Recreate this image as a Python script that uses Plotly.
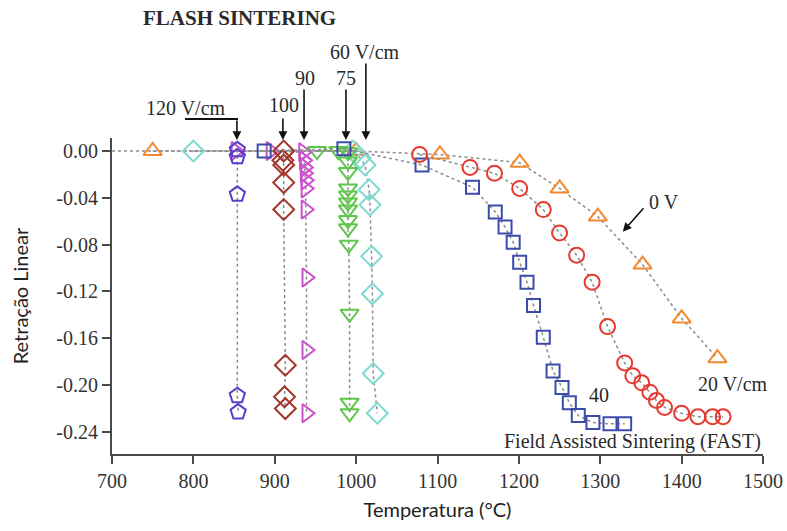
import plotly.graph_objects as go

# ---- data: temperature (°C) vs linear shrinkage ----
# conventional sintering, 0 V
t_0v = [750, 1000, 1103, 1201, 1250, 1297, 1352, 1400, 1444]
s_0v = [0.0, 0.0, -0.003, -0.010, -0.032, -0.056, -0.097, -0.143, -0.177]

# field assisted, 20 V/cm
t_20 = [1078, 1140, 1170, 1201, 1230, 1250, 1271, 1290, 1309, 1330, 1340,
        1351, 1361, 1369, 1379, 1400, 1420, 1438, 1451]
s_20 = [-0.003, -0.014, -0.019, -0.032, -0.050, -0.070, -0.089, -0.112, -0.150,
        -0.181, -0.192, -0.198, -0.206, -0.213, -0.219, -0.224, -0.227, -0.227, -0.227]

# field assisted, 40 V/cm
t_40 = [887, 985, 1081, 1143, 1171, 1183, 1193, 1201, 1210, 1218, 1230, 1242,
        1253, 1262, 1273, 1291, 1312, 1330]
s_40 = [0.0, 0.002, -0.012, -0.031, -0.052, -0.065, -0.078, -0.095, -0.112, -0.132,
        -0.159, -0.188, -0.202, -0.215, -0.226, -0.232, -0.233, -0.233]

# flash sintering, 60 V/cm
t_60 = [800, 996, 1005, 1011, 1016, 1017, 1019, 1020, 1021, 1026]
s_60 = [0.0, 0.0, -0.006, -0.012, -0.033, -0.046, -0.090, -0.122, -0.190, -0.224]

# flash sintering, 75 V/cm
t_75 = [952, 978, 990, 990, 990, 990, 990, 990, 990, 990, 990, 991, 992, 992, 992]
s_75 = [0.0, 0.0, -0.001, -0.009, -0.018, -0.032, -0.038, -0.044, -0.050, -0.059,
        -0.066, -0.080, -0.139, -0.215, -0.224]

# flash sintering, 90 V/cm
t_90 = [852, 895, 935, 936, 937, 937, 938, 938, 938, 939, 939, 939]
s_90 = [0.0, 0.0, -0.001, -0.008, -0.014, -0.019, -0.025, -0.032, -0.050, -0.108,
        -0.170, -0.224]

# flash sintering, 100 V/cm
t_100 = [911, 910, 911, 911, 911, 913, 912, 913]
s_100 = [0.0, -0.008, -0.012, -0.027, -0.050, -0.183, -0.210, -0.220]

# flash sintering, 120 V/cm
t_120 = [854, 854, 854, 854, 855]
s_120 = [0.001, -0.005, -0.037, -0.209, -0.223]

x_ticks = [700, 800, 900, 1000, 1100, 1200, 1300, 1400, 1500]
y_ticks = [0.0, -0.04, -0.08, -0.12, -0.16, -0.20, -0.24]
y_tick_text = ["0.00", "-0.04", "-0.08", "-0.12", "-0.16", "-0.20", "-0.24"]

SERIF = "Liberation Serif, Times New Roman, serif"
SANS = "Lato, Open Sans, sans-serif"
LINE = dict(color="#8c8c8c", width=1.5, dash="dot")

series = [
    (t_0v, s_0v, "triangle-up-open", "#F2892F", 16),
    (t_60, s_60, "diamond-open", "#7ED9D0", 16),
    (t_75, s_75, "triangle-down-open", "#5EC64B", 16),
    (t_90, s_90, "triangle-right-open", "#CC50CC", 16),
    (t_100, s_100, "diamond-open", "#A3342B", 16),
    (t_120, s_120, "pentagon-open", "#5B3FC6", 16),
    (t_40, s_40, "square-open", "#3C4BAA", 13),
    (t_20, s_20, "circle-open", "#E6392F", 15),
]

fig = go.Figure()
for xs, ys, sym, col, sz in series:
    fig.add_trace(go.Scatter(
        x=xs, y=ys, mode="lines+markers",
        line=LINE,
        marker=dict(symbol=sym, size=sz, color=col, line=dict(color=col, width=2)),
        showlegend=False, cliponaxis=False,
    ))

# dotted zero baseline before the onset of shrinkage
fig.add_shape(type="line", xref="x", yref="y", x0=x_ticks[0], x1=1000, y0=0, y1=0,
              line=LINE, layer="below")

ann = []

def label(x, y, text, xanchor="center", yref="y", size=20, bold=False):
    ann.append(dict(x=x, y=y, xref="x", yref=yref,
                    text=f"<b>{text}</b>" if bold else text, showarrow=False,
                    xanchor=xanchor, yanchor="middle",
                    font=dict(family=SERIF, size=size, color="#2a2a2a")))

def arrow(x, y, ax, ay):
    ann.append(dict(x=x, y=y, xref="x", yref="y", text="", showarrow=True,
                    ax=ax, ay=ay, arrowhead=2, arrowsize=1.1, arrowwidth=1.6,
                    arrowcolor="#111"))

# labels above the plotting area sit in paper coordinates
label(791, 1.095, "120 V/cm", yref="paper")
label(911, 1.104, "100", yref="paper")
label(937, 1.190, "90", yref="paper")
label(987.5, 1.190, "75", yref="paper")
label(1011, 1.272, "60 V/cm", yref="paper")
label(857, 1.380, "FLASH SINTERING", yref="paper", size=21, bold=True)

label(1358, -0.0436, "0 V", xanchor="left")
label(1463, -0.199, "20 V/cm")
label(1298, -0.2086, "40")
label(1500, -0.248, "Field Assisted Sintering (FAST)", xanchor="right")

arrow(853.5, 0.0094, 0, -21)
arrow(910, 0.0094, 0, -23)
arrow(936, 0.0094, 0, -52)
arrow(987.5, 0.0094, 0, -52)
arrow(1012, 0.0094, 0, -78)
arrow(1327.7, -0.069, 22, -25)

# horizontal leg of the 120 V/cm pointer: a thin filled annotation box
ann.append(dict(x=822, y=1.06, xref="x", yref="paper", xanchor="center",
                yanchor="middle", text=" ", showarrow=False,
                width=53, height=2, borderpad=0, borderwidth=0,
                bgcolor="#111111", font=dict(size=1)))

fig.update_layout(
    width=787, height=531,
    margin=dict(l=112, r=24, t=138, b=77, autoexpand=False),
    paper_bgcolor="white", plot_bgcolor="white",
    annotations=ann,
    xaxis=dict(
        range=[700, 1500], tickvals=x_ticks, showgrid=False, zeroline=False,
        automargin=False,
        showline=True, linecolor="#4a4a4a", linewidth=2,
        ticks="outside", ticklen=8, tickwidth=1.5, tickcolor="#4a4a4a",
        tickfont=dict(family=SERIF, size=20, color="#333"),
        title=dict(text="Temperatura (°C)", standoff=12,
                   font=dict(family=SANS, size=20, color="#222")),
    ),
    yaxis=dict(
        range=[-0.2588, 0.0111], tickvals=y_ticks, ticktext=y_tick_text,
        showgrid=False, zeroline=False, automargin=False,
        showline=True, linecolor="#4a4a4a", linewidth=2,
        ticks="outside", ticklen=8, tickwidth=1.5, tickcolor="#4a4a4a",
        tickfont=dict(family=SERIF, size=20, color="#333"),
        title=dict(text="Retração Linear", standoff=22,
                   font=dict(family=SANS, size=20, color="#222")),
    ),
)

fig.write_html("out.html")
